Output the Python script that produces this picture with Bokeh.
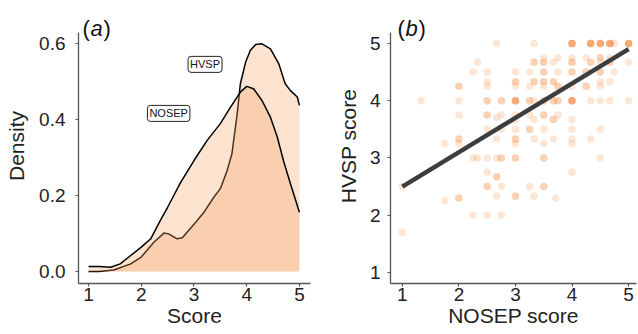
import numpy as np
from bokeh.plotting import figure
from bokeh.layouts import row
from bokeh.models import Label, Range1d, FixedTicker, NumeralTickFormatter
from bokeh.embed import file_html
from bokeh.resources import INLINE

# ---------------- data ----------------
# Panel (a): density curves
nosep_score = [1.0, 1.2, 1.42, 1.6, 1.8, 2.0, 2.18, 2.36, 2.5, 2.75, 3.0, 3.25, 3.5,
               3.69, 3.88, 4.0, 4.13, 4.29, 4.45, 4.58, 4.7, 4.83, 5.0]
nosep_density = [0.013, 0.013, 0.011, 0.02, 0.042, 0.064, 0.086, 0.134, 0.169, 0.235,
                 0.292, 0.345, 0.389, 0.432, 0.472, 0.487, 0.481, 0.45, 0.406, 0.354,
                 0.29, 0.231, 0.156]
hvsp_score = [1.0, 1.2, 1.48, 1.8, 2.0, 2.24, 2.43, 2.52, 2.68, 2.78, 3.0, 3.19, 3.38,
              3.5, 3.63, 3.72, 3.82, 3.88, 3.98, 4.07, 4.17, 4.29, 4.45, 4.61, 4.73,
              4.83, 4.96, 5.0]
hvsp_density = [0.0, 0.0, 0.004, 0.02, 0.038, 0.077, 0.101, 0.099, 0.086, 0.089, 0.124,
                0.156, 0.196, 0.218, 0.266, 0.31, 0.415, 0.494, 0.551, 0.582, 0.597,
                0.599, 0.586, 0.546, 0.494, 0.476, 0.459, 0.437]

# Panel (b): scatter points (NOSEP score, HVSP score, number of overlapping respondents)
pt_nosep = [2.67, 3.33, 4, 4.33, 4.5, 4.67, 4.75, 5,
            3.5, 3.75, 4, 4.25, 4.5, 4.67,
            2.33, 3.33, 3.5, 3.67, 4, 4.33, 4.5, 4.67, 5,
            2.25, 2.5, 3, 3.25, 3.5, 3.75, 4, 4.25, 4.5, 4.75,
            2, 2.5, 2.5, 3, 3, 3.25, 3.33, 3.5, 3.5, 3.67, 3.75, 4, 4.25, 4.5, 4.5, 4.67,
            1.33, 2, 2.5, 2.75, 3, 3.25, 3.33, 3.5, 3.67, 3.75, 4, 4.33, 4.5, 4.67, 5,
            2, 2.5, 2.75, 2.67, 3, 3, 3.25, 3.33, 3.5, 3.67, 3.75, 4,
            2.5, 2.75, 3, 3.25, 3.5, 4, 4.5,
            1.75, 2, 2, 2.67, 3, 3, 3.33, 3.5, 3.67, 4, 4, 4.33,
            2.25, 2.33, 2.5, 2.67, 2.75, 3, 3.5, 4.5,
            2.5, 4, 2.67,
            1, 2.5, 2.75, 3.25, 3.5,
            2.67, 3, 3.33, 3.71, 2, 1.75,
            2.25, 2.5, 2.75, 1]
pt_hvsp = [5, 5, 5, 5, 5, 5, 5, 5,
           4.75, 4.75, 4.75, 4.75, 4.75, 4.75,
           4.67, 4.67, 4.67, 4.67, 4.67, 4.67, 4.67, 4.67, 4.67,
           4.5, 4.5, 4.5, 4.5, 4.5, 4.5, 4.5, 4.5, 4.5, 4.5,
           4.25, 4.33, 4.25, 4.33, 4.25, 4.25, 4.33, 4.33, 4.25, 4.33, 4.25, 4.25, 4.25, 4.33, 4.25, 4.33,
           4, 4, 4, 4, 4, 4, 4, 4, 4, 4, 4, 4, 4, 4, 4,
           3.75, 3.75, 3.75, 3.7, 3.75, 3.67, 3.75, 3.67, 3.75, 3.67, 3.75, 3.67,
           3.5, 3.5, 3.5, 3.5, 3.5, 3.5, 3.5,
           3.25, 3.33, 3.25, 3.33, 3.33, 3.25, 3.33, 3.25, 3.33, 3.33, 3.25, 3.33,
           3, 3, 3, 3, 3, 3, 3, 3,
           2.75, 2.75, 2.67,
           2.5, 2.5, 2.5, 2.5, 2.5,
           2.33, 2.33, 2.33, 2.3, 2.3, 2.25,
           2, 2, 2, 1.7]
pt_count = [1, 1, 5, 5, 5, 5, 1, 5,
            1, 1, 1, 1, 2, 1,
            1, 2, 2, 1, 2, 2, 1, 2, 1,
            1, 1, 1, 1, 2, 1, 2, 2, 2, 1,
            2, 1, 1, 2, 1, 1, 2, 2, 1, 2, 2, 1, 2, 1, 1, 1,
            1, 1, 2, 2, 5, 2, 1, 2, 2, 2, 5, 1, 1, 1, 1,
            1, 2, 1, 1, 1, 1, 1, 1, 2, 2, 1, 1,
            1, 1, 1, 2, 1, 1, 1,
            1, 2, 1, 1, 2, 1, 1, 1, 1, 1, 1, 1,
            1, 1, 1, 1, 2, 2, 2, 1,
            1, 1, 2,
            1, 2, 1, 1, 2,
            1, 2, 1, 1, 2, 1,
            1, 1, 1, 1]

# fitted regression line (HVSP = intercept + slope * NOSEP)
fit_intercept = 1.9
fit_slope = 0.6
fit_range = [1, 5]

# ---------------- styling helpers ----------------
FONT = "Liberation Sans"
FILL = "#F5A262"
PT_COLOR = "#F08030"


def style(p):
    p.xgrid.visible = False
    p.ygrid.visible = False
    p.outline_line_color = None
    p.background_fill_color = "white"
    p.border_fill_color = "white"
    for ax in (p.xaxis[0], p.yaxis[0]):
        ax.axis_line_color = "#555555"
        ax.axis_line_width = 1.3
        ax.major_tick_line_color = "#555555"
        ax.major_tick_line_width = 1.2
        ax.major_tick_in = 0
        ax.major_tick_out = 3
        ax.minor_tick_line_color = None
        ax.major_label_text_font = FONT
        ax.major_label_text_font_size = "19px"
        ax.major_label_text_color = "#222222"
        ax.axis_label_text_font = FONT
        ax.axis_label_text_font_size = "21px"
        ax.axis_label_text_font_style = "normal"
        ax.axis_label_text_color = "#222222"
    p.xaxis.major_label_standoff = 1
    p.xaxis.axis_label_standoff = 0


def tag(p, x, y, letter):
    for txt, off, st in (("(", 0, "normal"), (letter, 8, "italic"), (")", 21, "normal")):
        p.add_layout(Label(x=x, y=y, x_offset=off, text=txt, text_font=FONT,
                           text_font_size="22px", text_font_style=st,
                           text_color="#111111", text_baseline="alphabetic"))


# ---------------- panel (a) ----------------
# frame extends 24px above the axis end so that the panel tag is inside it
p1 = figure(width=320, height=334, x_range=Range1d(0.81, 5.21),
            y_range=Range1d(-0.0316, 0.692), output_backend="svg",
            toolbar_location=None, min_border_left=78, min_border_right=10,
            min_border_top=8, min_border_bottom=51)
style(p1)
p1.xaxis.ticker = FixedTicker(ticks=[1, 2, 3, 4, 5])
p1.yaxis.ticker = FixedTicker(ticks=[0, 0.2, 0.4, 0.6])
p1.yaxis.bounds = (-0.0316, 0.629)
p1.yaxis.formatter = NumeralTickFormatter(format="0.0")
p1.yaxis.major_label_standoff = 10
p1.yaxis.axis_label_standoff = 8
p1.xaxis.axis_label = "Score"
p1.yaxis.axis_label = "Density"

p1.varea(x=hvsp_score, y1=0, y2=hvsp_density, fill_color=FILL, fill_alpha=0.3)
p1.line(hvsp_score, hvsp_density, line_color="black", line_width=1.5)
p1.varea(x=nosep_score, y1=0, y2=nosep_density, fill_color=FILL, fill_alpha=0.3)
p1.line(nosep_score, nosep_density, line_color="black", line_width=1.5)

for txt, lx, ly in (("HVSP", 3.21, 0.545), ("NOSEP", 2.52, 0.416)):
    p1.add_layout(Label(x=lx, y=ly, text=txt, text_font=FONT, text_font_size="11px",
                        text_color="#111111", text_align="center",
                        text_baseline="middle", border_line_color="#222222",
                        border_line_width=1, background_fill_color="white",
                        padding=2, border_radius=3))
tag(p1, 0.886, 0.6395, "a")

# ---------------- panel (b) ----------------
p2 = figure(width=318, height=334, x_range=Range1d(0.79, 5.14),
            y_range=Range1d(0.807, 5.61), output_backend="svg",
            toolbar_location=None, min_border_left=70, min_border_right=2,
            min_border_top=8, min_border_bottom=51)
style(p2)
p2.xaxis.ticker = FixedTicker(ticks=[1, 2, 3, 4, 5])
p2.yaxis.ticker = FixedTicker(ticks=[1, 2, 3, 4, 5])
p2.yaxis.bounds = (0.807, 5.19)
p2.yaxis.major_label_standoff = 7
p2.yaxis.axis_label_standoff = 7
p2.xaxis.axis_label = "NOSEP score"
p2.yaxis.axis_label = "HVSP score"

xs = np.repeat(pt_nosep, pt_count)
ys = np.repeat(pt_hvsp, pt_count)
p2.scatter(xs, ys, size=7.5, fill_color=PT_COLOR, fill_alpha=0.2, line_alpha=0)

fx = np.array(fit_range, dtype=float)
p2.line(fx, fit_intercept + fit_slope * fx, line_color="#3d3d3d", line_width=4.5)
tag(p2, 0.912, 5.263, "b")

layout = row(p1, p2)
open("out.html", "w").write(file_html(layout, INLINE))
